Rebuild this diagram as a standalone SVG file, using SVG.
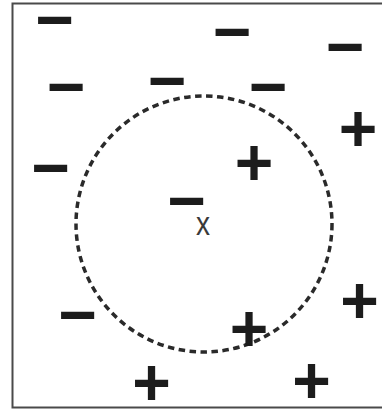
<svg xmlns="http://www.w3.org/2000/svg" width="382" height="410" viewBox="0 0 382 410">
<style>
.s{font-family:"Liberation Sans",Arial,sans-serif;font-weight:bold;font-size:66px;fill:#1c1c1c;text-anchor:middle}
.q{font-family:"Liberation Sans",Arial,sans-serif;font-size:33px;fill:#3a3a3a;text-anchor:middle}
</style>
<rect x="0" y="0" width="382" height="410" fill="#ffffff"/>
<rect id="frame" x="12.5" y="3.5" width="380" height="404" fill="none" stroke="#4a4a4a" stroke-width="2"/>
<g id="connectors">
<circle cx="204" cy="224" r="128" fill="none" stroke="#2a2a2a" stroke-width="3.5" stroke-dasharray="6.5 4.5"/>
</g>
<g id="minus">
<text class="s" x="54.5" y="41.5">−</text>
<text class="s" x="66" y="108.5">−</text>
<text class="s" x="167" y="102.5">−</text>
<text class="s" x="50.5" y="190">−</text>
<text class="s" x="186.5" y="223">−</text>
<text class="s" x="232" y="54">−</text>
<text class="s" x="345" y="68.5">−</text>
<text class="s" x="268" y="108.5">−</text>
<text class="s" x="77.5" y="337">−</text>
</g>
<g id="plus">
<text class="s" x="358" y="150.5">+</text>
<text class="s" x="254" y="184.5">+</text>
<text class="s" x="151.5" y="405">+</text>
<text class="s" x="359.5" y="323">+</text>
<text class="s" x="249" y="351">+</text>
<text class="s" x="311.5" y="403">+</text>
</g>
<g id="query">
<text class="q" transform="translate(203 235) scale(0.85 1)" x="0" y="0">x</text>
</g>
</svg>
